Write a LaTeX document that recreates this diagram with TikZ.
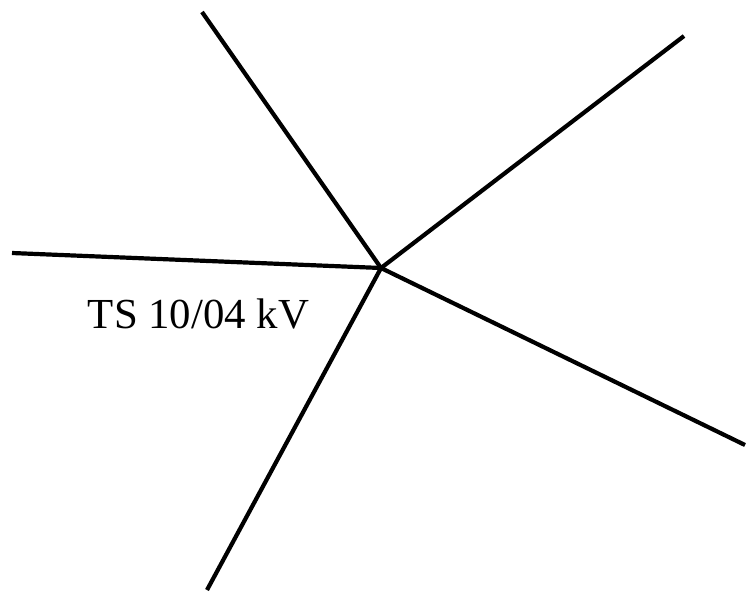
\documentclass[tikz,border=0pt]{standalone}
\usepackage{fontspec}
\setmainfont{Liberation Serif}
\begin{document}
\begin{tikzpicture}[x=1pt,y=-1pt,
  wire/.style={draw=black,line width=4.2pt}]
\useasboundingbox (0,0) rectangle (746,594);
\coordinate (c) at (381,268);
\coordinate (e1) at (202,12);
\coordinate (e2) at (684,36);
\coordinate (e3) at (12,253);
\coordinate (e4) at (745,445);
\coordinate (e5) at (207,590);
\draw[wire] (c) -- (e1);
\draw[wire] (c) -- (e2);
\draw[wire] (c) -- (e3);
\draw[wire] (c) -- (e4);
\draw[wire] (c) -- (e5);
\node[anchor=base,inner sep=0pt,font=\fontsize{42.8}{46}\selectfont] (lbl) at (198.5,328) {TS 10/04 kV};
\end{tikzpicture}
\end{document}
